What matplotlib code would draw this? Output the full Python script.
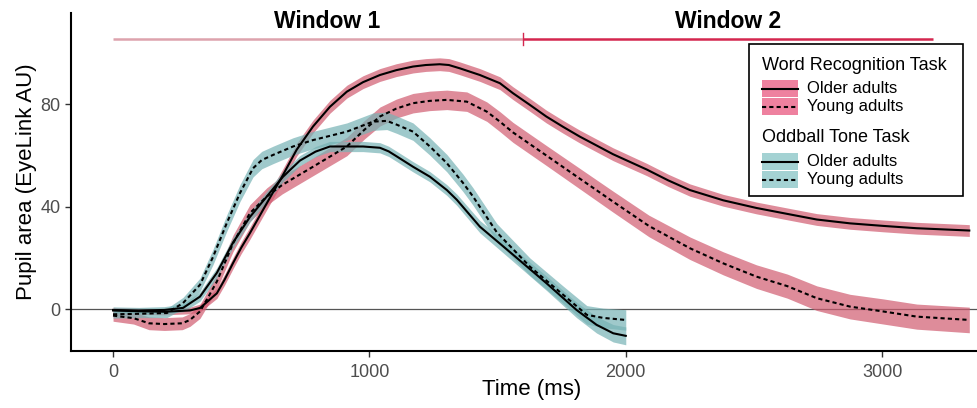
import matplotlib.pyplot as plt
import matplotlib.patches as mpatches
import numpy as np

plt.rcParams['font.family'] = ['Liberation Sans', 'DejaVu Sans']

# Word recognition task, older adults (solid)
wr_old_t = [0, 100, 200, 300, 340, 405, 435, 468, 500, 534, 600, 663, 716, 780, 846, 912, 975,
            1041, 1105, 1170, 1220, 1274, 1310, 1353, 1431, 1509, 1560, 1625, 1690, 1755, 1820,
            1950, 2082, 2165, 2250, 2380, 2510, 2640, 2745, 2875, 3005, 3135, 3340]
wr_old_v = [-0.5, -0.8, -1.0, -0.5, 0.5, 6.2, 11.5, 18, 24, 29.7, 41.4, 52.4, 62.2, 71.3, 79,
            84.9, 88.6, 91.4, 93.3, 94.7, 95.3, 95.6, 95.3, 94.0, 91.4, 88.2, 84.3, 79.8, 75.2,
            71.2, 67.4, 60.5, 54.5, 50.3, 46.5, 42.5, 39.5, 37, 35, 33.5, 32.5, 31.6, 30.7]
wr_old_se = [1.2, 1.2, 1.2, 1.3, 1.5, 2.0, 2.1, 2.2, 2.3, 2.4, 2.5, 2.5, 2.5, 2.5, 2.5, 2.5, 2.5,
             2.5, 2.5, 2.5, 2.5, 2.5, 2.5, 2.5, 2.5, 2.5, 2.5, 2.5, 2.5, 2.5, 2.5, 2.5, 2.4, 2.4,
             2.4, 2.3, 2.3, 2.3, 2.3, 2.3, 2.3, 2.3, 2.3]

# Word recognition task, young adults (dashed)
wr_young_t = [0, 80, 140, 200, 270, 300, 339, 370, 405, 468, 534, 600, 660, 780, 912, 980, 1041,
              1105, 1170, 1235, 1302, 1380, 1458, 1509, 1560, 1690, 1820, 1950, 2090, 2250, 2380,
              2510, 2630, 2745, 2875, 3005, 3135, 3340]
wr_young_v = [-2.5, -3.5, -5.5, -5.8, -5.5, -4.2, -0.9, 4.5, 10.8, 25.7, 37.5, 44, 48.5, 55.6,
              63.5, 70, 75.2, 78.3, 80.4, 81.3, 81.7, 81.0, 77.1, 73.2, 69, 60, 51, 42, 32.5,
              23.8, 17.9, 12.7, 9.0, 4.3, 1.0, -0.9, -2.9, -4.2]
wr_young_se = [2.2, 2.3, 2.5, 2.5, 2.5, 2.5, 2.7, 2.9, 3.0, 3.2, 3.3, 3.4, 3.5, 3.5, 3.6, 3.6,
               3.7, 3.7, 3.8, 3.8, 3.8, 3.8, 3.8, 3.9, 3.9, 3.9, 4.0, 4.1, 4.2, 4.4, 4.5, 4.6,
               4.7, 4.8, 4.8, 4.9, 4.9, 5.0]

# Oddball tone task, older adults (solid)
ob_old_t = [0, 100, 200, 273, 339, 405, 468, 534, 600, 663, 729, 790, 846, 975, 1041, 1075, 1107,
            1170, 1236, 1302, 1341, 1431, 1561, 1691, 1808, 1886, 1951, 2000]
ob_old_v = [-0.3, -0.5, -0.3, 0.5, 4.9, 14.2, 26, 36, 44, 51.7, 58, 61.5, 63.5, 63.5, 63, 61.6,
            59.6, 55.6, 51.7, 46.5, 42.7, 32.2, 21.2, 10.1, -0.3, -6.1, -9.4, -10.4]
ob_old_se = [1.2, 1.2, 1.3, 1.5, 1.8, 2.0, 2.0, 2.0, 2.0, 2.0, 2.0, 2.0, 2.0, 2.0, 2.0, 2.0,
             2.0, 2.0, 2.0, 2.1, 2.2, 2.4, 2.6, 2.8, 3.0, 3.2, 3.4, 3.5]

# Oddball tone task, young adults (dashed)
ob_young_t = [0, 100, 210, 273, 339, 390, 444, 495, 546, 580, 624, 702, 780, 912, 1014, 1068,
              1107, 1170, 1236, 1302, 1365, 1404, 1497, 1626, 1756, 1848, 1912, 2000]
ob_young_v = [-2.0, -1.8, -1.5, 2.4, 9.5, 20.4, 33.7, 45.3, 55, 58.2, 60.2, 63.5, 66, 69.3, 73.2,
              73.5, 72, 69.3, 63.5, 57, 49.3, 44, 30, 16.6, 5.6, -2.2, -3.4, -4.2]
ob_young_se = [1.5, 1.5, 1.8, 2.2, 2.6, 3.0, 3.2, 3.3, 3.4, 3.4, 3.4, 3.4, 3.4, 3.4, 3.4, 3.4,
               3.4, 3.4, 3.4, 3.4, 3.4, 3.4, 3.4, 3.4, 3.4, 3.6, 3.8, 4.0]

windows = [(0, 1600, 'Window 1', 835), (1600, 3200, 'Window 2', 2400)]

pink = '#D05B70'
teal = '#77B3B5'

fig = plt.figure(figsize=(9.77, 4.08), dpi=100)
ax = fig.add_axes([71 / 977, 1 - 350.7 / 408, (977 - 71) / 977, (350.7 - 13) / 408])

series = [
    (wr_old_t, wr_old_v, wr_old_se, pink, '-'),
    (wr_young_t, wr_young_v, wr_young_se, pink, (0, (2, 1.5))),
    (ob_old_t, ob_old_v, ob_old_se, teal, '-'),
    (ob_young_t, ob_young_v, ob_young_se, teal, (0, (2, 1.5))),
]

ax.axhline(0, color='#555555', lw=0.9, zorder=1)

for t, v, se, col, ls in series:
    v = np.array(v)
    se = np.array(se)
    ax.fill_between(t, v - se, v + se, color=col, alpha=0.7, lw=0, zorder=2)
for t, v, se, col, ls in series:
    ax.plot(t, v, color='black', lw=1.5, ls=ls, zorder=3)

# analysis windows
win_cols = ['#DDA3AD', '#D4264F']
for (a, b, lab, xc), c in zip(windows, win_cols):
    ax.plot([a, b], [105.5, 105.5], color=c, lw=1.8, solid_capstyle='butt', zorder=3)
    ax.text(xc, 112.3, lab, ha='center', va='center', fontsize=16.5, fontweight='bold')
ax.plot([1600, 1600], [103.2, 107.8], color=win_cols[1], lw=1.0, zorder=3)

ax.set_xlim(-164, 3370)
ax.set_ylim(-16.2, 115.6)
ax.set_xticks([0, 1000, 2000, 3000])
ax.set_yticks([0, 40, 80])
ax.tick_params(axis='both', labelsize=13, labelcolor='#4D4D4D', color='#333333',
               length=4.5, width=1)
ax.tick_params(axis='x', pad=5)
ax.tick_params(axis='y', pad=3)
for s in ['top', 'right']:
    ax.spines[s].set_visible(False)
for s in ['left', 'bottom']:
    ax.spines[s].set_linewidth(1.5)

ax.set_xlabel('Time (ms)', fontsize=16)
ax.set_ylabel('Pupil area (EyeLink AU)', fontsize=16)
ax.xaxis.set_label_coords(0.508, -0.085)
ax.yaxis.set_label_coords(-0.038, 0.5)

# legend, built in pixel space
lg = fig.add_axes([0, 0, 1, 1], facecolor='none')
lg.set_xlim(0, 977)
lg.set_ylim(408, 0)
lg.axis('off')
lg.add_patch(mpatches.Rectangle((749, 44), 214, 152, fill=False, ec='black', lw=1.2))
groups = [('Word Recognition Task', '#EE819F', 65), ('Oddball Tone Task', '#A4D2D3', 138)]
for title, kc, ty in groups:
    lg.text(762, ty, title, fontsize=13, va='center', ha='left')
    for i, (lab, ls) in enumerate([('Older adults', '-'), ('Young adults', (0, (2, 1.5)))]):
        y0 = ty + 15 + i * 18
        lg.add_patch(mpatches.Rectangle((762, y0), 36, 17, fc=kc, ec='none'))
        lg.plot([762, 798], [y0 + 8.5, y0 + 8.5], color='black', lw=1.5, ls=ls)
        lg.text(807, y0 + 8.5, lab, fontsize=12, va='center', ha='left')

fig.savefig('out.png', dpi=100)
